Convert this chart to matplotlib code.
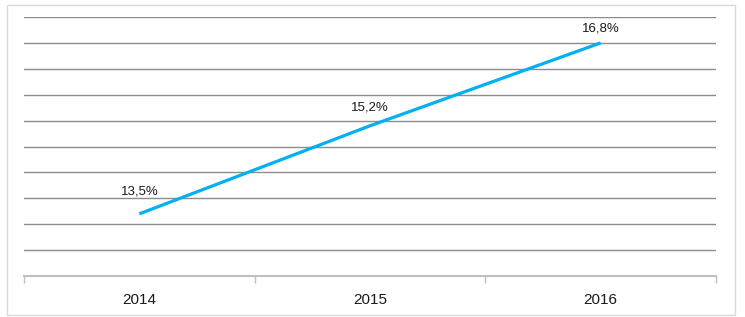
import numpy as np
import matplotlib.pyplot as plt
from matplotlib.patches import Rectangle

# data
years = ['2014', '2015', '2016']
share = [13.5, 15.2, 16.8]
labels = ['13,5%', '15,2%', '16,8%']

plt.rcParams['font.family'] = ['Liberation Sans', 'DejaVu Sans']

fig = plt.figure(figsize=(7.45, 3.17), dpi=100)

# light frame around the whole chart
fig.patches.append(Rectangle((7 / 745, 2 / 317), 728 / 745, 310 / 317,
                             transform=fig.transFigure, fill=False,
                             edgecolor='#d9d9d9', linewidth=1))

ax = fig.add_axes([24 / 745, 41 / 317, 692 / 745, 259 / 317])

x = np.arange(len(years))
ax.plot(x, share, color='#00b0f0', linewidth=2.3, solid_capstyle='butt')

# label offsets above the points (points), as placed in the original
label_offsets = [12, 9, 6]
for xi, yi, lab, off in zip(x, share, labels, label_offsets):
    ax.annotate(lab, (xi, yi), xytext=(0, off), textcoords='offset points',
                ha='center', va='bottom', fontsize=9.5, color='#1a1a1a')

ax.set_xlim(-0.5, len(years) - 0.5)
ax.set_ylim(12.3, 17.3)
ax.set_yticks(np.arange(12.8, 17.31, 0.5))
ax.yaxis.grid(True, color='#8c8c8c', linewidth=1)
ax.set_axisbelow(True)
ax.tick_params(axis='y', left=False, labelleft=False)

# category labels centred, tick marks between categories
ax.set_xticks(x)
ax.set_xticklabels(years, fontsize=11, color='#1a1a1a')
ax.tick_params(axis='x', which='major', length=0, pad=12)
ax.set_xticks(np.arange(-0.5, len(years), 1), minor=True)
ax.tick_params(axis='x', which='minor', length=5, width=1, color='#bfbfbf')

for side in ['top', 'left', 'right']:
    ax.spines[side].set_visible(False)
ax.spines['bottom'].set_color('#bfbfbf')
ax.spines['bottom'].set_linewidth(1.5)

plt.savefig('out.png', dpi=100)
